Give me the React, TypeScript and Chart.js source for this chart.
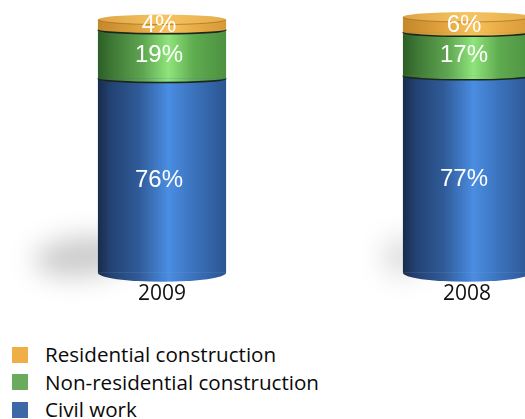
import React, { useEffect, useRef } from "react";
import { Chart, registerables } from "chart.js";

Chart.register(...registerables);

// ---- data ----
const years = ["2009", "2008"];
const civilWork = [76, 77];
const nonResidential = [19, 17];
const residential = [4, 6];
const seriesNames = ["Civil work", "Non-residential construction", "Residential construction"];

// ---- styles ----
const legendColors = ["#3d68a8", "#6aaa5c", "#f0ae48"];
const gradientStops: [number, string][][] = [
  [[0, "#182c4c"], [0.1, "#234273"], [0.32, "#305b98"], [0.55, "#4a8de2"], [0.75, "#3b72bc"], [1, "#2c5592"]],
  [[0, "#2c5e26"], [0.12, "#407a37"], [0.35, "#5fa551"], [0.55, "#8fe47b"], [0.75, "#5fab50"], [1, "#4c9140"]],
  [[0, "#c4872a"], [0.3, "#e0a23e"], [0.55, "#f8c25a"], [0.8, "#e6a844"], [1, "#d89a38"]],
];
const shadowScale = [1, 0.3];

function makeGrad(ctx: CanvasRenderingContext2D, x0: number, x1: number, stops: [number, string][]) {
  const g = ctx.createLinearGradient(x0, 0, x1, 0);
  stops.forEach(([o, c]) => g.addColorStop(o, c));
  return g;
}

const cylinderPlugin = {
  id: "cylinders",
  beforeDatasetsDraw(chart: any) {
    const ctx: CanvasRenderingContext2D = chart.ctx;
    const meta = chart.getDatasetMeta(0);
    meta.data.forEach((el: any, i: number) => {
      const { x, base, width } = el.getProps(["x", "base", "width"], true);
      const s = shadowScale[i] ?? 1;
      const left = x - width / 2;
      ctx.save();
      ctx.filter = "blur(13px)";
      ctx.fillStyle = `rgba(0,0,0,${0.1 + 0.1 * s})`;
      ctx.beginPath();
      ctx.ellipse(left - 22 * s + 6, base - 16, 40 * s + 8, 20, -0.1, 0, Math.PI * 2);
      ctx.fill();
      ctx.restore();
    });
  },
  afterDatasetsDraw(chart: any) {
    const ctx: CanvasRenderingContext2D = chart.ctx;
    const nSets = chart.data.datasets.length;
    const nCats = chart.data.labels.length;
    for (let i = 0; i < nCats; i++) {
      const els = chart.data.datasets.map((_: any, d: number) =>
        chart.getDatasetMeta(d).data[i].getProps(["x", "y", "base", "width"], true)
      );
      // body rects
      els.forEach((e: any, d: number) => {
        const l = e.x - e.width / 2;
        ctx.fillStyle = makeGrad(ctx, l, l + e.width, gradientStops[d]);
        ctx.fillRect(l, e.y, e.width, e.base - e.y);
      });
      // bottom cap
      const b = els[0];
      ctx.save();
      ctx.fillStyle = makeGrad(ctx, b.x - b.width / 2, b.x + b.width / 2, gradientStops[0]);
      ctx.beginPath();
      ctx.ellipse(b.x, b.base, b.width / 2, 9, 0, 0, Math.PI);
      ctx.fill();
      ctx.restore();
      // boundaries between segments
      for (let d = 1; d < nSets; d++) {
        const e = els[d];
        ctx.save();
        ctx.fillStyle = makeGrad(ctx, e.x - e.width / 2, e.x + e.width / 2, gradientStops[d]);
        ctx.beginPath();
        ctx.ellipse(e.x, e.base, e.width / 2, 4, 0, 0, Math.PI);
        ctx.fill();
        ctx.strokeStyle = "#1d261d";
        ctx.lineWidth = 1.5;
        ctx.beginPath();
        ctx.ellipse(e.x, e.base, e.width / 2, 4, 0, 0, Math.PI);
        ctx.stroke();
        ctx.restore();
      }
      // top cap
      const t = els[nSets - 1];
      ctx.save();
      ctx.fillStyle = makeGrad(ctx, t.x - t.width / 2, t.x + t.width / 2, [
        [0, "#dfa444"], [0.5, "#f6c463"], [1, "#e6ac4a"],
      ]);
      ctx.beginPath();
      ctx.ellipse(t.x, t.y, t.width / 2, 5, 0, 0, Math.PI * 2);
      ctx.fill();
      ctx.strokeStyle = "rgba(150,100,30,0.6)";
      ctx.lineWidth = 1;
      ctx.beginPath();
      ctx.ellipse(t.x, t.y, t.width / 2, 5, 0, 0, Math.PI);
      ctx.stroke();
      ctx.restore();
      // value labels
      ctx.save();
      ctx.fillStyle = "#ffffff";
      ctx.font = "24px 'Liberation Sans', Arial, sans-serif";
      ctx.textAlign = "center";
      ctx.textBaseline = "middle";
      els.forEach((e: any, d: number) => {
        const v = chart.data.datasets[d].data[i];
        const dy = d === 0 ? 5 : 1;
        ctx.fillText(`${v}%`, e.x - 3, (e.y + e.base) / 2 + dy);
      });
      ctx.restore();
    }
  },
};

export default function App() {
  const ref = useRef<HTMLCanvasElement | null>(null);
  useEffect(() => {
    if (!ref.current) return;
    const chart = new Chart(ref.current, {
      type: "bar",
      data: {
        labels: years,
        datasets: [
          { label: seriesNames[0], data: civilWork, backgroundColor: legendColors[0] },
          { label: seriesNames[1], data: nonResidential, backgroundColor: legendColors[1] },
          { label: seriesNames[2], data: residential, backgroundColor: legendColors[2] },
        ],
      },
      options: {
        responsive: false,
        animation: false,
        layout: { padding: { left: 9.5, right: 20.5, top: 17, bottom: 0 } },
        datasets: { bar: { categoryPercentage: 1, barPercentage: 0.42, borderWidth: 0 } },
        plugins: { legend: { display: false }, tooltip: { enabled: false } },
        scales: {
          x: {
            stacked: true,
            grid: { display: false, drawTicks: false },
            border: { display: false },
            ticks: { color: "#111", padding: 9, font: { family: "'Open Sans', sans-serif", size: 21 } },
          },
          y: { stacked: true, display: false, min: 0, max: 100 },
        },
      },
      plugins: [cylinderPlugin],
    });
    return () => chart.destroy();
  }, []);

  return (
    <div style={{ position: "absolute", left: 0, top: 0, width: 525, height: 419, overflow: "hidden", background: "#fff" }}>
      <canvas ref={ref} width={640} height={316} style={{ position: "absolute", left: 0, top: 0, width: 640, height: 316 }} />
      <div style={{ position: "absolute", left: 12, top: 341, fontFamily: "'Open Sans', sans-serif", fontSize: 20.6, color: "#0a0a0a" }}>
        {[2, 1, 0].map((d) => (
          <div key={d} style={{ display: "flex", alignItems: "center", height: 27.5 }}>
            <span style={{ display: "inline-block", width: 16, height: 16, background: legendColors[d], marginRight: 17 }} />
            <span style={{ lineHeight: "27.5px" }}>{seriesNames[d]}</span>
          </div>
        ))}
      </div>
    </div>
  );
}
